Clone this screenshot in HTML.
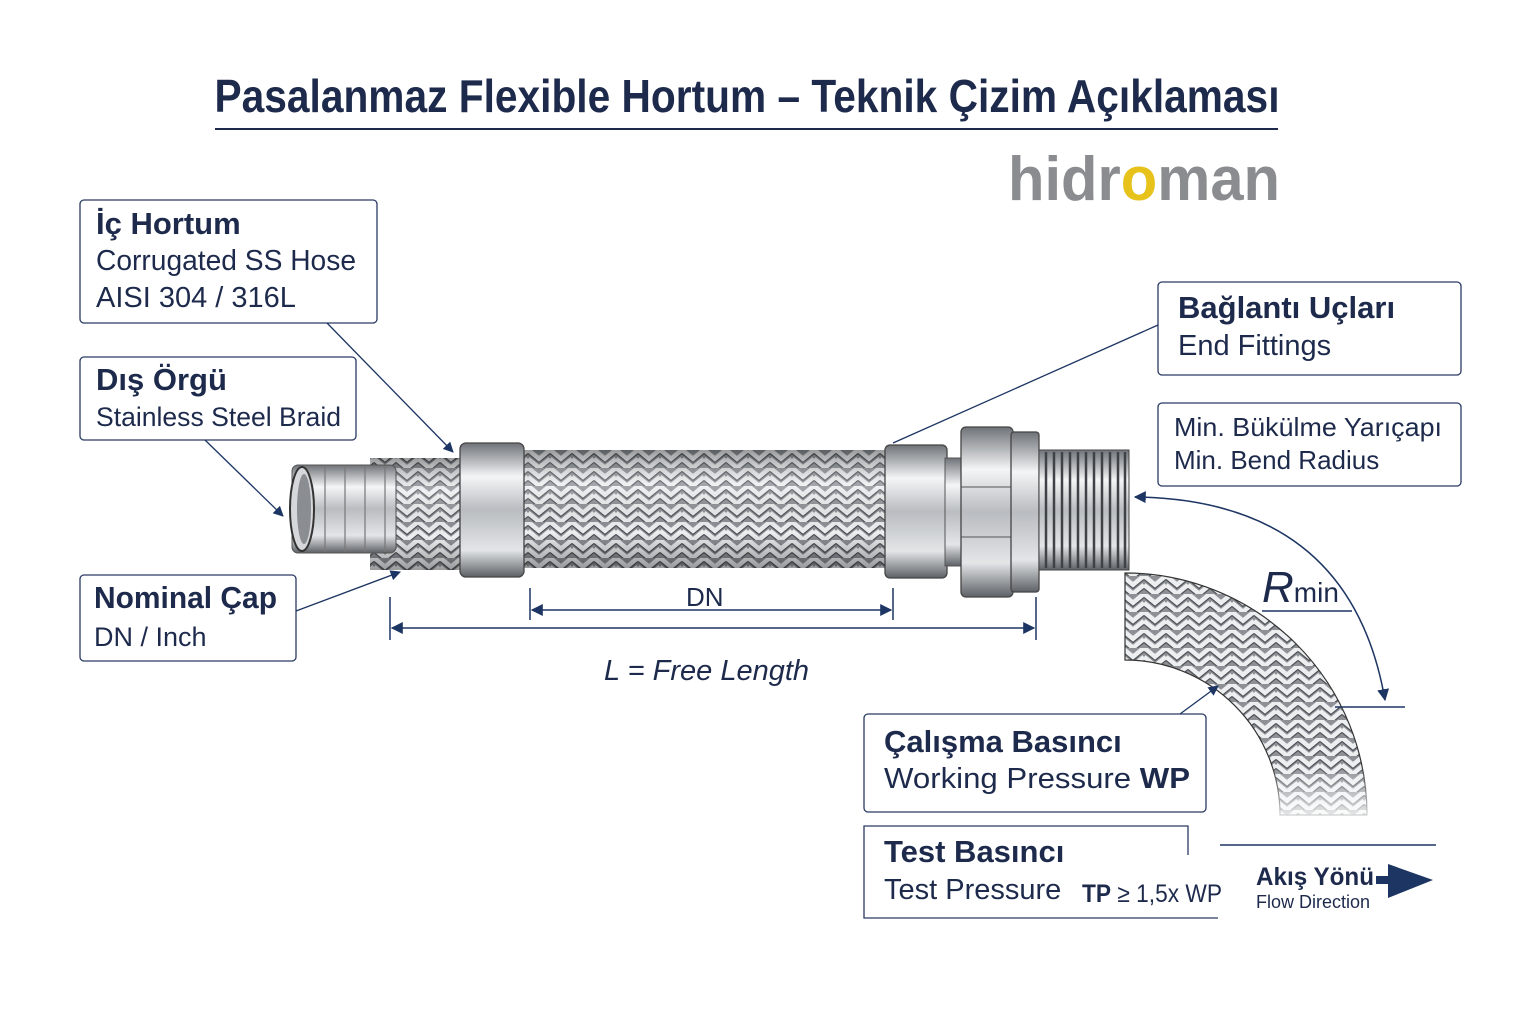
<!DOCTYPE html>
<html><head><meta charset="utf-8"><style>
html,body{margin:0;padding:0;background:#fff;}
svg{display:block;}
text{font-family:"Liberation Sans","DejaVu Sans",sans-serif;fill:#1d2a4c;}
</style></head><body>
<svg width="1536" height="1024" viewBox="0 0 1536 1024" xmlns="http://www.w3.org/2000/svg">
<defs>
<pattern id="braid" width="22" height="18" patternUnits="userSpaceOnUse">
<rect width="22" height="18" fill="#8d9196"/>
<path d="M0 0 L11 9 L22 0 M0 9 L11 18 L22 9" stroke="#eceef0" stroke-width="5" fill="none"/>
<path d="M0 0 L11 9 L22 0 M0 9 L11 18 L22 9" stroke="#4d5156" stroke-width="1.2" fill="none" transform="translate(0,3.5)"/>
</pattern>
<linearGradient id="metal" x1="0" y1="0" x2="0" y2="1">
<stop offset="0" stop-color="#6f7378"/><stop offset=".25" stop-color="#f4f5f6"/><stop offset=".5" stop-color="#b9bcc0"/><stop offset=".8" stop-color="#e3e5e7"/><stop offset="1" stop-color="#5d6166"/>
</linearGradient>
<linearGradient id="shade" x1="0" y1="0" x2="0" y2="1">
<stop offset="0" stop-color="#000" stop-opacity=".35"/><stop offset=".3" stop-color="#fff" stop-opacity=".2"/><stop offset=".7" stop-color="#000" stop-opacity="0"/><stop offset="1" stop-color="#000" stop-opacity=".35"/>
</linearGradient>
<linearGradient id="fade" x1="0" y1="0" x2="0" y2="1">
<stop offset="0" stop-color="#fff" stop-opacity="0"/><stop offset=".75" stop-color="#fff" stop-opacity="0"/><stop offset="1" stop-color="#fff" stop-opacity="1"/>
</linearGradient>
<marker id="ah" viewBox="0 0 10 10" refX="9" refY="5" markerWidth="8" markerHeight="8" orient="auto-start-reverse"><path d="M0 0 L10 5 L0 10 z" fill="#1d3563"/></marker>
</defs>

<!-- title -->
<text x="747" y="112" text-anchor="middle" font-size="46" font-weight="bold" textLength="1065" lengthAdjust="spacingAndGlyphs">Pasalanmaz Flexible Hortum – Teknik Çizim Açıklaması</text>
<line x1="215" y1="129" x2="1278" y2="129" stroke="#1d2a4c" stroke-width="2"/>

<!-- logo -->
<text x="1008" y="200" font-size="62" font-weight="bold" fill="#8a8c8f" style="fill:#8a8c8f" textLength="272" lengthAdjust="spacingAndGlyphs">hidr<tspan style="fill:#e6c21a">o</tspan>man</text>

<!-- hose straight -->
<rect x="370" y="458" width="110" height="112" fill="url(#braid)"/>
<rect x="370" y="458" width="110" height="112" fill="url(#shade)"/>
<rect x="292" y="465" width="104" height="88" rx="6" fill="url(#metal)" stroke="#555" stroke-width="1"/>
<g stroke="#777" stroke-width="1.2"><line x1="325" y1="466" x2="325" y2="552"/><line x1="345" y1="466" x2="345" y2="552"/><line x1="365" y1="466" x2="365" y2="552"/><line x1="385" y1="466" x2="385" y2="552"/></g>
<ellipse cx="302" cy="509" rx="12" ry="42" fill="#d5d7da" stroke="#333" stroke-width="2"/>
<ellipse cx="304" cy="509" rx="7" ry="35" fill="#8a8e93"/>
<rect x="520" y="450" width="370" height="118" fill="url(#braid)"/>
<rect x="520" y="450" width="370" height="118" fill="url(#shade)"/>
<rect x="460" y="443" width="64" height="134" rx="6" fill="url(#metal)" stroke="#444" stroke-width="1.3"/>
<rect x="885" y="445" width="62" height="133" rx="5" fill="url(#metal)" stroke="#444" stroke-width="1.3"/>
<rect x="945" y="458" width="18" height="108" fill="url(#metal)" stroke="#555"/>
<rect x="961" y="427" width="52" height="170" rx="5" fill="url(#metal)" stroke="#444" stroke-width="1.3"/>
<line x1="961" y1="487" x2="1013" y2="487" stroke="#555"/><line x1="961" y1="537" x2="1013" y2="537" stroke="#555"/>
<rect x="1011" y="432" width="28" height="160" rx="3" fill="url(#metal)" stroke="#444" stroke-width="1.3"/>
<rect x="1039" y="450" width="90" height="120" fill="url(#metal)" stroke="#444"/>
<g stroke="#3f4347" stroke-width="2.5">
<line x1="1046" y1="452" x2="1046" y2="568"/><line x1="1054" y1="452" x2="1054" y2="568"/><line x1="1062" y1="452" x2="1062" y2="568"/><line x1="1070" y1="452" x2="1070" y2="568"/><line x1="1078" y1="452" x2="1078" y2="568"/><line x1="1086" y1="452" x2="1086" y2="568"/><line x1="1094" y1="452" x2="1094" y2="568"/><line x1="1102" y1="452" x2="1102" y2="568"/><line x1="1110" y1="452" x2="1110" y2="568"/><line x1="1118" y1="452" x2="1118" y2="568"/><line x1="1125" y1="452" x2="1125" y2="568"/>
</g>

<!-- bent hose -->
<path d="M1125 573 A242 242 0 0 1 1367 815 L1280 815 A155 155 0 0 0 1125 660 Z" fill="url(#braid)" stroke="#333" stroke-width="1.2"/>
<rect x="1210" y="570" width="170" height="260" fill="url(#fade)"/>

<!-- boxes -->
<g fill="#fff" stroke="#2a3a63" stroke-width="1.3">
<rect x="80" y="200" width="297" height="123" rx="4"/>
<rect x="80" y="357" width="276" height="83" rx="4"/>
<rect x="80" y="575" width="216" height="86" rx="4"/>
<rect x="1158" y="282" width="303" height="93" rx="4"/>
<rect x="1158" y="403" width="303" height="83" rx="4"/>
<rect x="864" y="714" width="342" height="98" rx="4"/>
<path d="M1218 918 H864 V826 H1188 V855" fill="none"/>
</g>
<g font-size="29">
<text x="96" y="234" font-weight="bold" font-size="31">İç Hortum</text>
<text x="96" y="270" textLength="260" lengthAdjust="spacingAndGlyphs">Corrugated SS Hose</text>
<text x="96" y="307">AISI 304 / 316L</text>
<text x="96" y="390" font-weight="bold" font-size="31">Dış Örgü</text>
<text x="96" y="426" font-size="27" textLength="245" lengthAdjust="spacingAndGlyphs">Stainless Steel Braid</text>
<text x="94" y="608" font-weight="bold" font-size="31" textLength="183" lengthAdjust="spacingAndGlyphs">Nominal Çap</text>
<text x="94" y="646" font-size="27">DN / Inch</text>
<text x="1178" y="318" font-weight="bold" font-size="31">Bağlantı Uçları</text>
<text x="1178" y="355">End Fittings</text>
<text x="1174" y="436" font-size="26" textLength="268" lengthAdjust="spacingAndGlyphs">Min. Bükülme Yarıçapı</text>
<text x="1174" y="469" font-size="26">Min. Bend Radius</text>
<text x="884" y="752" font-weight="bold" font-size="31">Çalışma Basıncı</text>
<text x="884" y="788" textLength="306" lengthAdjust="spacingAndGlyphs">Working Pressure <tspan font-weight="bold">WP</tspan></text>
<text x="884" y="862" font-weight="bold" font-size="31">Test Basıncı</text>
<text x="884" y="899">Test Pressure</text>
<text x="1082" y="902" font-size="25" textLength="140" lengthAdjust="spacingAndGlyphs"><tspan font-weight="bold">TP</tspan> ≥ 1,5x WP</text>
</g>

<!-- leaders -->
<g stroke="#1d3563" stroke-width="1.3" fill="none">
<line x1="327" y1="323" x2="453" y2="452" marker-end="url(#ah)"/>
<line x1="205" y1="440" x2="283" y2="516" marker-end="url(#ah)"/>
<line x1="296" y1="611" x2="400" y2="572" marker-end="url(#ah)"/>
<line x1="1158" y1="325" x2="893" y2="443"/>
<line x1="1180" y1="714" x2="1218" y2="686" marker-end="url(#ah)"/>
</g>

<!-- dimensions -->
<g stroke="#1d3563" stroke-width="1.5" fill="none">
<line x1="530" y1="588" x2="530" y2="620"/><line x1="893" y1="588" x2="893" y2="620"/>
<line x1="532" y1="610" x2="891" y2="610" marker-start="url(#ah)" marker-end="url(#ah)"/>
<line x1="390" y1="597" x2="390" y2="640"/><line x1="1036" y1="597" x2="1036" y2="640"/>
<line x1="392" y1="628" x2="1034" y2="628" marker-start="url(#ah)" marker-end="url(#ah)"/>
<path d="M1135 497 Q1350 500 1385 700" marker-start="url(#ah)" marker-end="url(#ah)"/>
<line x1="1335" y1="707" x2="1405" y2="707"/>
<line x1="1262" y1="611" x2="1352" y2="611"/>
<line x1="1220" y1="845" x2="1436" y2="845"/>
</g>
<text x="686" y="606" font-size="26">DN</text>
<text x="604" y="680" font-size="29" font-style="italic">L = Free Length</text>
<text x="1262" y="602" font-size="44" font-style="italic">R<tspan font-size="28" font-style="normal">min</tspan></text>

<!-- flow -->
<text x="1256" y="885" font-size="25" font-weight="bold" textLength="118" lengthAdjust="spacingAndGlyphs">Akış Yönü</text>
<text x="1256" y="908" font-size="18">Flow Direction</text>
<rect x="1376" y="876" width="14" height="8" fill="#1d3563"/>
<path d="M1388 864 L1433 880 L1388 898 Z" fill="#1d3563"/>
</svg>
</body></html>
